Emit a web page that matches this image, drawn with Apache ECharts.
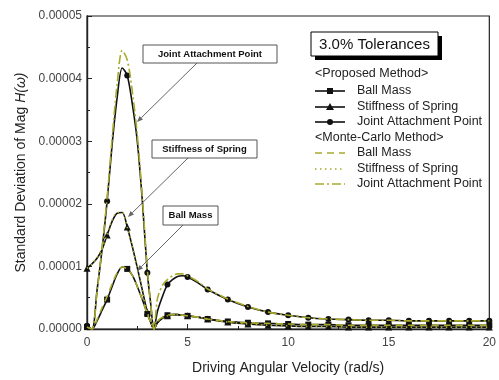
<!DOCTYPE html>
<html>
<head>
<meta charset="utf-8">
<script src="https://cdn.jsdelivr.net/npm/echarts@6/dist/echarts.min.js"></script>
<style>
  html, body { margin: 0; padding: 0; background: #fff; }
  #chart { width: 499px; height: 380px; }
</style>
</head>
<body>
<div id="chart"></div>
<script>
// Driving angular velocity (rad/s)
const omega = [0, 0.25, 0.5, 0.75, 1, 1.25, 1.5, 1.75, 2, 2.25, 2.5, 2.75, 3, 3.15, 3.33,
  3.5, 3.75, 4, 4.25, 4.5, 4.75, 5, 5.5, 6, 7, 8, 9, 10, 11, 12, 13, 14, 15, 16, 17, 18, 19, 20];

// Standard deviation of |H(w)|, in units of 1e-5
const UNIT = 1e-5;

// Proposed method
const propBall  = [0.03, 0, 0.13, 0.3, 0.47, 0.68, 0.88, 0.99, 0.96, 0.86, 0.68, 0.47, 0.24, 0.12, 0,
  0.1, 0.18, 0.22, 0.23, 0.23, 0.22, 0.21, 0.19, 0.16, 0.12, 0.1, 0.09, 0.08, 0.07, 0.07, 0.06, 0.06, 0.06, 0.06, 0.06, 0.06, 0.06, 0.06];
const propSpring = [0.97, 1.04, 1.13, 1.27, 1.5, 1.72, 1.85, 1.86, 1.63, 1.32, 0.98, 0.62, 0.27, 0.13, 0,
  0.1, 0.17, 0.21, 0.23, 0.23, 0.22, 0.21, 0.19, 0.16, 0.11, 0.08, 0.06, 0.05, 0.04, 0.04, 0.03, 0.03, 0.03, 0.03, 0.03, 0.03, 0.03, 0.03];
const propJoint = [0.05, 0, 0.62, 1.27, 2.04, 2.95, 3.7, 4.17, 4.05, 3.6, 3.0, 2.05, 0.9, 0.45, 0,
  0.28, 0.52, 0.71, 0.79, 0.84, 0.85, 0.83, 0.74, 0.63, 0.47, 0.35, 0.27, 0.22, 0.18, 0.16, 0.15, 0.14, 0.14, 0.13, 0.13, 0.13, 0.13, 0.13];

// Monte-Carlo method
const mcBall  = [0.03, 0, 0.15, 0.34, 0.52, 0.72, 0.9, 0.99, 0.96, 0.86, 0.68, 0.47, 0.24, 0.12, 0,
  0.12, 0.19, 0.22, 0.23, 0.23, 0.22, 0.21, 0.19, 0.16, 0.12, 0.1, 0.09, 0.08, 0.07, 0.07, 0.06, 0.06, 0.06, 0.06, 0.06, 0.06, 0.06, 0.06];
const mcSpring = [0.97, 1.04, 1.14, 1.29, 1.52, 1.74, 1.86, 1.86, 1.63, 1.32, 0.98, 0.62, 0.27, 0.13, 0,
  0.12, 0.18, 0.21, 0.23, 0.23, 0.22, 0.21, 0.19, 0.16, 0.11, 0.08, 0.06, 0.05, 0.04, 0.04, 0.03, 0.03, 0.03, 0.03, 0.03, 0.03, 0.03, 0.03];
const mcJoint = [0.03, 0, 0.6, 1.3, 2.1, 3.05, 3.92, 4.45, 4.3, 3.8, 3.1, 2.1, 0.95, 0.45, 0,
  0.48, 0.7, 0.79, 0.85, 0.88, 0.88, 0.85, 0.76, 0.64, 0.48, 0.36, 0.27, 0.22, 0.18, 0.16, 0.15, 0.14, 0.14, 0.13, 0.13, 0.13, 0.13, 0.13];

const xTicks = { min: 0, max: 20, interval: 5 };
const yTicks = { min: 0, max: 0.00005, interval: 0.00001 };

const MC_COLOR = '#a8aa2c';
const FONT = '"Liberation Sans", Arial, sans-serif';

// markers only at whole-number velocities
function pts(vals) {
  return omega.map((x, i) => {
    const p = { value: [x, vals[i] * UNIT] };
    if (!Number.isInteger(x)) p.symbol = 'none';
    return p;
  });
}

function proposed(name, vals, symbol, size) {
  return {
    name, type: 'line', data: pts(vals), smooth: 0.3,
    symbol, symbolSize: size, showSymbol: true,
    itemStyle: { color: '#111' },
    lineStyle: { color: '#111', width: 1.6 },
    z: 2, animation: false
  };
}
function monteCarlo(name, vals, dash) {
  return {
    name, type: 'line', smooth: 0.3, showSymbol: false, symbol: 'none',
    data: omega.map((x, i) => [x, vals[i] * UNIT]),
    lineStyle: { color: MC_COLOR, width: 1.6, type: dash },
    z: 3, animation: false
  };
}

// arrow helper for the callout pointers
function arrow(x1, y1, x2, y2) {
  const a = Math.atan2(y2 - y1, x2 - x1), L = 6, W = 2.5;
  const bx = x2 - L * Math.cos(a), by = y2 - L * Math.sin(a);
  const nx = -Math.sin(a) * W, ny = Math.cos(a) * W;
  return [
    { type: 'line', shape: { x1, y1, x2: bx, y2: by }, style: { stroke: '#666', lineWidth: 1 }, z: 10 },
    { type: 'polygon', shape: { points: [[x2, y2], [bx + nx, by + ny], [bx - nx, by - ny]] }, style: { fill: '#666' }, z: 10 }
  ];
}
function callout(x, y, w, h, text) {
  return [
    { type: 'rect', shape: { x, y, width: w, height: h }, style: { fill: '#fff', stroke: '#555', lineWidth: 1 }, z: 11 },
    { type: 'text', x: x + w / 2, y: y + h / 2, z: 12,
      style: { text, font: 'bold 9.5px ' + FONT, fill: '#111', align: 'center', verticalAlign: 'middle' } }
  ];
}

// legend
const legendX = 315, lineEnd = 345, textX = 357;
function legendRow(y, mark, dash) {
  const items = [];
  if (mark) {
    items.push({ type: 'line', shape: { x1: legendX, y1: y, x2: lineEnd, y2: y }, style: { stroke: '#111', lineWidth: 1.6 }, z: 10 });
    const cx = (legendX + lineEnd) / 2;
    if (mark === 'rect') items.push({ type: 'rect', shape: { x: cx - 3, y: y - 3, width: 6, height: 6 }, style: { fill: '#111' }, z: 11 });
    if (mark === 'triangle') items.push({ type: 'polygon', shape: { points: [[cx, y - 4], [cx + 4, y + 3], [cx - 4, y + 3]] }, style: { fill: '#111' }, z: 11 });
    if (mark === 'circle') items.push({ type: 'circle', shape: { cx, cy: y, r: 3 }, style: { fill: '#111' }, z: 11 });
  } else {
    items.push({ type: 'line', shape: { x1: legendX, y1: y, x2: lineEnd, y2: y }, style: { stroke: MC_COLOR, lineWidth: 1.6, lineDash: dash }, z: 10 });
  }
  return items;
}
function legendText(x, y, text) {
  return { type: 'text', x, y, z: 12, style: { text, font: '12.5px ' + FONT, fill: '#222', verticalAlign: 'middle' } };
}

const graphics = [
  // title box with drop shadow
  { type: 'rect', shape: { x: 315, y: 36, width: 127, height: 24 }, style: { fill: '#000' }, z: 10 },
  { type: 'rect', shape: { x: 311, y: 32, width: 127, height: 24 }, style: { fill: '#fff', stroke: '#000', lineWidth: 1 }, z: 11 },
  { type: 'text', x: 374.5, y: 44.5, z: 12, style: { text: '3.0% Tolerances', font: '15px ' + FONT, fill: '#111', align: 'center', verticalAlign: 'middle' } },
  legendText(315, 74, '<Proposed Method>'),
  ...legendRow(91, 'rect'), legendText(textX, 91, 'Ball Mass'),
  ...legendRow(107, 'triangle'), legendText(textX, 107, 'Stiffness of Spring'),
  ...legendRow(122, 'circle'), legendText(textX, 122, 'Joint Attachment Point'),
  legendText(315, 138, '<Monte-Carlo Method>'),
  ...legendRow(153, null, [7, 5]), legendText(textX, 153, 'Ball Mass'),
  ...legendRow(169, null, [1.5, 3.5]), legendText(textX, 169, 'Stiffness of Spring'),
  ...legendRow(184, null, [9, 3, 2, 3]), legendText(textX, 184, 'Joint Attachment Point'),
  // callouts
  ...arrow(197, 63, 137, 122), ...callout(143, 45, 134, 18, 'Joint Attachment Point'),
  ...arrow(188, 158, 128, 217), ...callout(152, 140, 105, 18, 'Stiffness of Spring'),
  ...arrow(183, 225, 137, 271), ...callout(163, 206, 55, 19, 'Ball Mass')
];

const chart = echarts.init(document.getElementById('chart'), null, { renderer: 'canvas' });
chart.setOption({
  animation: false,
  backgroundColor: '#fff',
  textStyle: { fontFamily: FONT },
  grid: { left: 87, right: 4, top: 16, bottom: 48, show: true, borderColor: '#222', borderWidth: 1.2 },
  xAxis: {
    type: 'value', min: xTicks.min, max: xTicks.max, interval: xTicks.interval,
    name: 'Driving Angular Velocity (rad/s)', nameLocation: 'middle', nameGap: 32,
    nameTextStyle: { fontSize: 14, color: '#222', fontFamily: FONT },
    axisLine: { show: true, lineStyle: { color: '#222', width: 1.4 } },
    axisTick: { show: true, inside: true, length: 5, lineStyle: { color: '#222' } },
    minorTick: { show: true, splitNumber: 2, length: 3, lineStyle: { color: '#222' } },
    axisLabel: { fontSize: 12, color: '#444', margin: 8, fontFamily: FONT },
    splitLine: { show: false }
  },
  yAxis: {
    type: 'value', min: yTicks.min, max: yTicks.max, interval: yTicks.interval,
    name: 'Standard Deviation of Mag {i|H(ω)}', nameLocation: 'middle', nameGap: 57,
    nameTextStyle: { fontSize: 14, color: '#222', fontFamily: FONT,
      rich: { i: { fontSize: 14, fontStyle: 'italic', color: '#222', fontFamily: FONT } } },
    axisLine: { show: true, lineStyle: { color: '#222', width: 1.4 } },
    axisTick: { show: true, inside: true, length: 5, lineStyle: { color: '#222' } },
    minorTick: { show: true, splitNumber: 2, length: 3, lineStyle: { color: '#222' } },
    axisLabel: { fontSize: 12, color: '#444', margin: 5, fontFamily: FONT, formatter: v => v.toFixed(5) },
    splitLine: { show: false }
  },
  series: [
    proposed('Ball Mass', propBall, 'rect', 6),
    proposed('Stiffness of Spring', propSpring, 'triangle', 7),
    proposed('Joint Attachment Point', propJoint, 'circle', 6),
    monteCarlo('Ball Mass (MC)', mcBall, [7, 5]),
    monteCarlo('Stiffness of Spring (MC)', mcSpring, [1.5, 3.5]),
    monteCarlo('Joint Attachment Point (MC)', mcJoint, [9, 3, 2, 3])
  ],
  graphic: graphics
});
</script>
</body>
</html>
